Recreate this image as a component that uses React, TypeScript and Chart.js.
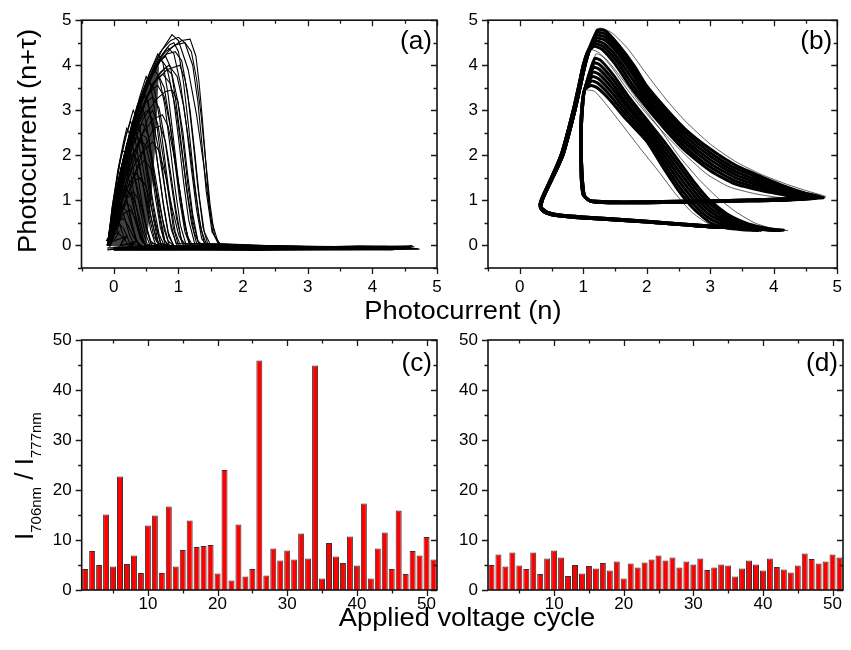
import React, { useEffect, useRef } from "react";
import { Chart, registerables } from "chart.js";
Chart.register(...registerables);

const W = 851;
const H = 650;
const FONT = '"Liberation Sans", Arial, Helvetica, sans-serif';

// ---------------- bar data (panels c, d) ----------------
const cycles = [1, 2, 3, 4, 5, 6, 7, 8, 9, 10, 11, 12, 13, 14, 15, 16, 17, 18, 19, 20, 21, 22, 23, 24, 25, 26, 27, 28, 29, 30, 31, 32, 33, 34, 35, 36, 37, 38, 39, 40, 41, 42, 43, 44, 45, 46, 47, 48, 49, 50, 51];
const ratioC = [4.2, 7.8, 5.0, 15.1, 4.7, 22.7, 5.2, 6.9, 3.4, 12.9, 14.9, 3.4, 16.7, 4.7, 8.0, 13.9, 8.6, 8.8, 9.0, 3.3, 24.0, 1.9, 13.1, 2.7, 4.2, 45.9, 2.9, 8.3, 5.9, 7.9, 6.1, 11.3, 6.3, 44.9, 2.3, 9.4, 6.7, 5.4, 10.7, 4.9, 17.3, 2.3, 8.3, 11.5, 4.2, 15.9, 3.2, 7.8, 6.9, 10.6, 6.1];
const ratioD = [5.0, 7.1, 4.7, 7.5, 4.9, 4.2, 7.5, 3.2, 6.3, 7.9, 6.5, 2.8, 5.0, 3.3, 4.8, 4.3, 5.4, 3.9, 5.7, 2.3, 5.3, 4.5, 5.5, 6.1, 6.9, 5.9, 6.5, 4.5, 5.7, 5.1, 6.3, 4.0, 4.5, 5.1, 4.9, 2.7, 4.3, 5.9, 5.1, 3.9, 6.3, 4.6, 4.1, 3.5, 4.9, 7.3, 6.2, 5.3, 5.7, 7.1, 6.5];

// ---------------- tick values ----------------
const photoMajor = [0, 1, 2, 3, 4, 5];
const photoMinor = [-0.5, 0.5, 1.5, 2.5, 3.5, 4.5];
const cycleMajor = [10, 20, 30, 40, 50];
const cycleMinor = [5, 15, 25, 35, 45];
const ratioMajor = [0, 10, 20, 30, 40, 50];
const ratioMinor = [5, 15, 25, 35, 45];

// ---------------- panel (a): densest core region (upper / lower edge) ----------------
const coreUpperA = [[-0.1, 0], [-0.05, 0.5], [0.0, 0.95], [0.08, 1.5], [0.16, 1.95], [0.25, 2.45], [0.32, 2.8], [0.4, 3.15], [0.47, 3.4], [0.55, 3.65], [0.62, 3.85], [0.7, 4.0]];
const coreLowerA = [[-0.1, 0], [0.1, -0.04], [0.35, -0.04], [0.5, 0.05], [0.55, 0.6], [0.6, 1.4], [0.64, 2.2], [0.67, 3.0], [0.7, 4.0]];

// ---------------- panel (a): chaotic trajectories (n, n+tau) ----------------
const tracesA: number[][][] = [
  [[-0.09, 0], [-0.03, 0.6], [0.03, 1.1], [0.17, 2.0], [0.35, 3.0], [0.48, 3.5], [0.63, 4.0], [0.75, 4.35], [0.9, 4.68], [1.0, 4.55], [1.15, 3.9], [1.28, 2.9], [1.4, 1.7], [1.5, 0.6], [1.62, 0.04], [2.6, -0.02], [4.7, -0.07], [2.2, -0.11], [-0.05, -0.08]],
  [[-0.1, 0.02], [0.0, 0.9], [0.12, 1.75], [0.27, 2.6], [0.4, 3.25], [0.56, 3.85], [0.72, 4.3], [0.88, 4.55], [1.0, 4.62], [1.1, 4.5], [1.22, 4.0], [1.3, 3.2], [1.36, 2.3], [1.43, 1.2], [1.52, 0.3], [1.66, 0.0], [3.9, -0.03], [4.62, -0.01], [3.4, -0.08], [0, -0.07]],
  [[-0.07, -0.02], [0.03, 1.0], [0.15, 1.9], [0.3, 2.75], [0.46, 3.45], [0.62, 3.95], [0.8, 4.3], [0.95, 4.45], [1.1, 4.5], [1.2, 4.3], [1.28, 3.7], [1.35, 2.9], [1.42, 1.9], [1.49, 0.9], [1.56, 0.2], [1.66, 0.0], [4.3, -0.05], [4.55, -0.03], [0, -0.09]],
  [[-0.09, 0.01], [-0.02, 0.7], [0.09, 1.5], [0.23, 2.3], [0.38, 3.05], [0.55, 3.7], [0.7, 4.15], [0.83, 4.4], [0.93, 4.25], [1.03, 3.6], [1.12, 2.7], [1.2, 1.7], [1.28, 0.8], [1.36, 0.15], [1.45, -0.02], [3.3, -0.06], [0, -0.09]],
  [[-0.08, 0], [0.02, 0.95], [0.16, 1.95], [0.32, 2.85], [0.5, 3.6], [0.68, 4.05], [0.82, 4.25], [0.95, 4.3], [1.05, 4.1], [1.14, 3.4], [1.22, 2.4], [1.3, 1.3], [1.38, 0.4], [1.46, 0.0], [2.9, -0.05], [0, -0.08]],
  [[-0.1, 0], [-0.03, 0.6], [0.06, 1.3], [0.2, 2.15], [0.36, 2.95], [0.52, 3.6], [0.65, 4.0], [0.72, 4.15], [0.82, 3.95], [0.92, 3.3], [1.0, 2.4], [1.08, 1.4], [1.16, 0.55], [1.25, 0.05], [2.5, -0.04], [0, -0.07]],
  [[-0.06, 0], [0.04, 0.9], [0.2, 1.9], [0.38, 2.8], [0.56, 3.45], [0.72, 3.85], [0.85, 4.0], [0.98, 3.75], [1.08, 3.1], [1.17, 2.2], [1.26, 1.2], [1.35, 0.35], [1.44, 0.0], [3.6, -0.05], [0, -0.09]],
  [[-0.09, 0.02], [0.0, 0.85], [0.13, 1.7], [0.28, 2.55], [0.43, 3.25], [0.55, 3.7], [0.62, 3.9], [0.7, 3.75], [0.79, 3.1], [0.87, 2.2], [0.95, 1.25], [1.03, 0.45], [1.12, 0.0], [1.9, -0.05], [0, -0.07]],
  [[-0.08, 0], [0.03, 0.9], [0.18, 1.85], [0.35, 2.7], [0.52, 3.35], [0.66, 3.7], [0.76, 3.8], [0.87, 3.6], [0.97, 2.95], [1.06, 2.0], [1.15, 1.05], [1.24, 0.3], [1.33, 0.0], [2.7, -0.04], [0, -0.08]],
  [[-0.1, 0], [-0.02, 0.7], [0.1, 1.55], [0.25, 2.45], [0.4, 3.15], [0.5, 3.5], [0.55, 3.65], [0.63, 3.45], [0.71, 2.8], [0.79, 1.9], [0.87, 1.0], [0.95, 0.3], [1.03, 0.0], [1.6, -0.04], [0, -0.06]],
  [[-0.07, 0.01], [0.05, 1.0], [0.2, 1.95], [0.37, 2.75], [0.52, 3.3], [0.62, 3.5], [0.68, 3.55], [0.78, 3.3], [0.88, 2.6], [0.97, 1.7], [1.06, 0.85], [1.14, 0.2], [1.22, 0.0], [3.1, -0.06], [0, -0.09]],
  [[-0.09, 0], [0.0, 0.9], [0.12, 1.75], [0.26, 2.55], [0.38, 3.1], [0.46, 3.4], [0.53, 3.2], [0.61, 2.55], [0.69, 1.7], [0.77, 0.85], [0.85, 0.2], [0.93, 0.0], [1.4, -0.05], [0, -0.07]],
  [[-0.08, 0.02], [0.04, 1.0], [0.18, 1.95], [0.33, 2.7], [0.48, 3.15], [0.6, 3.3], [0.7, 3.05], [0.79, 2.35], [0.88, 1.45], [0.97, 0.6], [1.06, 0.05], [2.1, -0.04], [0, -0.08]],
  [[-0.1, 0.01], [-0.01, 0.85], [0.11, 1.7], [0.24, 2.45], [0.34, 2.95], [0.4, 3.15], [0.47, 2.95], [0.55, 2.3], [0.63, 1.5], [0.71, 0.7], [0.79, 0.1], [0.87, -0.02], [1.2, -0.05], [0, -0.07]],
  [[-0.06, 0], [0.06, 1.0], [0.2, 1.9], [0.35, 2.6], [0.46, 2.92], [0.52, 3.0], [0.6, 2.8], [0.69, 2.15], [0.78, 1.35], [0.87, 0.55], [0.96, 0.05], [1.8, -0.05], [0, -0.08]],
  [[-0.09, 0], [0.0, 0.85], [0.12, 1.7], [0.23, 2.35], [0.3, 2.7], [0.33, 2.85], [0.4, 2.65], [0.48, 2.0], [0.56, 1.25], [0.64, 0.55], [0.72, 0.05], [1.0, -0.04], [0, -0.06]],
  [[-0.1, 0], [0.03, 0.95], [0.17, 1.85], [0.3, 2.4], [0.4, 2.65], [0.45, 2.7], [0.53, 2.45], [0.61, 1.8], [0.7, 1.05], [0.78, 0.35], [0.86, 0.0], [1.5, -0.05], [0, -0.07]],
  [[-0.08, 0.01], [0.0, 0.8], [0.1, 1.6], [0.19, 2.2], [0.24, 2.45], [0.26, 2.55], [0.33, 2.35], [0.41, 1.7], [0.49, 1.0], [0.57, 0.35], [0.65, 0.0], [0.95, -0.04], [0, -0.06]],
  [[-0.1, 0], [0.02, 0.9], [0.15, 1.75], [0.27, 2.2], [0.34, 2.35], [0.38, 2.4], [0.46, 2.15], [0.54, 1.55], [0.62, 0.85], [0.7, 0.25], [0.78, 0.0], [1.3, -0.05], [0, -0.08]],
  [[-0.09, 0], [-0.02, 0.7], [0.07, 1.45], [0.15, 1.95], [0.2, 2.2], [0.26, 2.0], [0.33, 1.45], [0.4, 0.85], [0.48, 0.3], [0.56, 0.0], [0.8, -0.04], [0, -0.06]],
  [[-0.1, 0.01], [0.0, 0.8], [0.12, 1.55], [0.22, 1.9], [0.3, 2.05], [0.38, 1.85], [0.46, 1.3], [0.54, 0.7], [0.62, 0.2], [0.7, 0.0], [1.1, -0.04], [0, -0.07]],
  [[-0.08, 0], [-0.01, 0.7], [0.07, 1.35], [0.14, 1.85], [0.2, 1.7], [0.27, 1.2], [0.34, 0.65], [0.41, 0.2], [0.48, 0.0], [0.7, -0.04], [0, -0.06]],
  [[-0.09, 0], [0.02, 0.75], [0.13, 1.4], [0.25, 1.7], [0.33, 1.5], [0.41, 1.0], [0.49, 0.45], [0.57, 0.05], [0.9, -0.04], [0, -0.06]],
  [[-0.1, 0], [-0.02, 0.65], [0.05, 1.2], [0.09, 1.5], [0.15, 1.35], [0.22, 0.9], [0.29, 0.45], [0.36, 0.08], [0.44, -0.02], [0, -0.06]],
  [[-0.08, 0.01], [0.02, 0.65], [0.1, 1.1], [0.18, 1.3], [0.26, 1.1], [0.34, 0.65], [0.42, 0.2], [0.5, 0.0], [0.75, -0.04], [0, -0.06]],
  [[-0.1, 0], [-0.03, 0.55], [0.04, 1.1], [0.1, 0.95], [0.17, 0.6], [0.24, 0.25], [0.31, 0.02], [0.5, -0.04], [0, -0.05]],
  [[-0.08, 0], [0.0, 0.5], [0.12, 0.9], [0.2, 0.75], [0.28, 0.4], [0.36, 0.08], [0.44, -0.02], [0, -0.06]],
  [[-0.1, 0.01], [-0.04, 0.45], [0.0, 0.7], [0.07, 0.55], [0.14, 0.25], [0.21, 0.02], [0.35, -0.04], [0, -0.05]],
  [[-0.09, 0], [0.0, 0.35], [0.08, 0.5], [0.16, 0.35], [0.24, 0.08], [0.3, -0.02], [0, -0.05]],
  [[-0.06, -0.03], [0.05, 1.05], [0.2, 2.05], [0.37, 2.95], [0.54, 3.6], [0.72, 4.1], [0.9, 4.4], [1.05, 4.55], [1.18, 4.58], [1.27, 4.2], [1.32, 3.6], [1.37, 2.8], [1.42, 1.9], [1.47, 1.0], [1.53, 0.3], [1.62, 0.02], [4.5, -0.06], [0, -0.1]],
  [[-0.09, 0], [0.04, 1.0], [0.22, 2.1], [0.42, 3.0], [0.62, 3.6], [0.82, 3.9], [1.02, 4.0], [1.1, 3.7], [1.18, 3.0], [1.25, 2.1], [1.32, 1.1], [1.4, 0.3], [1.5, 0.0], [3.8, -0.05], [0, -0.08]],
  [[-0.07, 0], [0.06, 1.0], [0.24, 2.0], [0.45, 2.8], [0.66, 3.25], [0.8, 3.42], [0.9, 3.45], [0.99, 3.2], [1.07, 2.5], [1.14, 1.6], [1.22, 0.7], [1.3, 0.1], [1.38, 0.0], [2.4, -0.05], [0, -0.08]],
  [[-0.08, 0.01], [0.06, 0.95], [0.24, 1.85], [0.43, 2.45], [0.6, 2.8], [0.75, 2.9], [0.84, 2.65], [0.93, 2.0], [1.02, 1.2], [1.1, 0.45], [1.18, 0.0], [2.0, -0.05], [0, -0.07]],
  [[-0.1, 0], [0.05, 0.8], [0.23, 1.55], [0.42, 2.05], [0.6, 2.3], [0.7, 2.1], [0.8, 1.55], [0.9, 0.85], [1.0, 0.25], [1.08, 0.0], [1.7, -0.05], [0, -0.08]],
  [[-0.08, 0], [0.07, 0.75], [0.25, 1.4], [0.4, 1.78], [0.48, 1.9], [0.57, 1.7], [0.66, 1.2], [0.75, 0.6], [0.84, 0.1], [0.92, 0.0], [1.25, -0.04], [0, -0.07]],
  [[-0.1, 0.02], [-0.02, 0.8], [0.1, 1.65], [0.26, 2.55], [0.42, 3.3], [0.56, 3.85], [0.68, 4.25], [0.76, 4.05], [0.84, 3.35], [0.92, 2.4], [1.0, 1.4], [1.08, 0.55], [1.17, 0.05], [2.2, -0.04], [0, -0.08]],
  [[-0.09, 0], [0.0, 0.9], [0.13, 1.8], [0.28, 2.65], [0.4, 3.3], [0.5, 3.75], [0.57, 3.55], [0.65, 2.85], [0.73, 1.95], [0.81, 1.05], [0.89, 0.35], [0.98, 0.0], [1.55, -0.05], [0, -0.07]],
  [[-0.1, 0], [-0.02, 0.9], [0.09, 1.8], [0.2, 2.5], [0.3, 3.0], [0.37, 2.8], [0.45, 2.15], [0.53, 1.35], [0.61, 0.6], [0.69, 0.05], [0.95, -0.04], [0, -0.07]],
  [[-0.09, 0.01], [-0.03, 0.8], [0.06, 1.65], [0.15, 2.3], [0.2, 2.6], [0.27, 2.4], [0.35, 1.75], [0.43, 1.0], [0.51, 0.35], [0.59, 0.0], [0.85, -0.04], [0, -0.06]],
  [[0, -0.05], [1.8, -0.02], [2.5, 0.0], [3.5, -0.05], [4.6, -0.04], [3.8, -0.09], [2.0, -0.1], [0, -0.1]],
  [[0, -0.08], [1.0, -0.06], [2.5, -0.06], [3.8, -0.01], [4.65, -0.03], [4.3, -0.1], [3.0, -0.08], [0.5, -0.1], [-0.1, -0.08]],
  [[-0.1, 0], [0.05, 0.7], [0.2, 1.3], [0.35, 1.6], [0.44, 1.4], [0.53, 0.9], [0.62, 0.35], [0.7, 0.0], [1.0, -0.05], [0, -0.07]],
  [[-0.09, 0], [0.05, 0.6], [0.18, 1.0], [0.3, 1.2], [0.39, 1.0], [0.48, 0.55], [0.57, 0.1], [0.65, 0.0], [0.95, -0.04], [0, -0.06]],
  [[-0.08, 0], [0.05, 0.45], [0.15, 0.7], [0.25, 0.8], [0.33, 0.6], [0.41, 0.25], [0.5, 0.0], [0.7, -0.04], [0, -0.06]],
  [[0, -0.06], [1.5, -0.05], [2.5, -0.02], [3.5, -0.03], [4.2, -0.02], [4.73, -0.08], [3.6, -0.1], [1.8, -0.08], [0, -0.1]],
  [[-0.05, 0], [0.1, 0.8], [0.25, 1.6], [0.4, 2.3], [0.52, 2.8], [0.6, 3.0], [0.68, 2.7], [0.76, 2.0], [0.84, 1.2], [0.92, 0.4], [1.0, 0.0], [1.4, -0.05], [0, -0.07]],
  [[-0.04, 0.02], [0.12, 0.7], [0.3, 1.5], [0.48, 2.2], [0.62, 2.6], [0.72, 2.65], [0.8, 2.3], [0.88, 1.6], [0.96, 0.8], [1.04, 0.15], [1.12, 0.0], [1.9, -0.05], [0, -0.08]],
  [[-0.08, 0], [0.06, 0.9], [0.2, 1.6], [0.32, 2.1], [0.42, 2.35], [0.5, 2.2], [0.58, 1.7], [0.65, 1.0], [0.72, 0.4], [0.8, 0.0], [1.2, -0.04], [0, -0.07]],
  [[-0.06, 0], [0.08, 0.6], [0.2, 1.1], [0.32, 1.45], [0.42, 1.5], [0.5, 1.3], [0.58, 0.85], [0.66, 0.35], [0.74, 0.0], [1.05, -0.05], [0, -0.07]],
  [[-0.1, 0.01], [0.0, 0.5], [0.1, 0.95], [0.2, 1.2], [0.28, 1.15], [0.36, 0.8], [0.44, 0.35], [0.52, 0.02], [0.8, -0.04], [0, -0.06]],
  [[-0.07, 0], [0.02, 0.4], [0.12, 0.75], [0.2, 0.95], [0.27, 0.85], [0.34, 0.5], [0.41, 0.15], [0.48, 0.0], [0.65, -0.04], [0, -0.05]],
  [[-0.09, 0.02], [-0.01, 0.3], [0.08, 0.55], [0.15, 0.6], [0.22, 0.45], [0.3, 0.2], [0.38, 0.02], [0.55, -0.04], [0, -0.05]],
  [[-0.08, 0], [0.05, 1.1], [0.16, 2.0], [0.26, 2.6], [0.36, 3.1], [0.44, 3.35], [0.52, 3.2], [0.6, 2.6], [0.68, 1.8], [0.76, 1.0], [0.84, 0.3], [0.92, 0.0], [1.35, -0.05], [0, -0.07]],
  [[-0.1, 0], [0.02, 1.2], [0.1, 1.9], [0.18, 2.4], [0.26, 2.75], [0.34, 2.6], [0.42, 2.0], [0.5, 1.3], [0.58, 0.6], [0.66, 0.1], [0.74, 0.0], [1.1, -0.04], [0, -0.06]],
  [[-0.09, 0], [0.0, 1.0], [0.07, 1.7], [0.13, 2.1], [0.19, 2.05], [0.26, 1.6], [0.33, 1.0], [0.4, 0.45], [0.47, 0.05], [0.6, -0.03], [0, -0.06]],
  [[-0.1, 0], [-0.04, 0.5], [0.02, 1.05], [0.08, 1.5], [0.13, 1.45], [0.2, 1.0], [0.27, 0.5], [0.34, 0.1], [0.4, 0.0], [0.55, -0.04], [0, -0.05]],
  [[-0.08, 0.01], [0.1, 1.2], [0.28, 2.3], [0.45, 3.1], [0.6, 3.6], [0.7, 3.75], [0.78, 3.5], [0.86, 2.8], [0.94, 1.9], [1.02, 1.0], [1.1, 0.3], [1.18, 0.0], [2.3, -0.05], [0, -0.08]],
  [[-0.06, 0], [0.14, 1.3], [0.34, 2.5], [0.52, 3.3], [0.68, 3.75], [0.8, 3.95], [0.9, 3.8], [0.99, 3.2], [1.07, 2.3], [1.15, 1.3], [1.23, 0.5], [1.31, 0.05], [2.6, -0.04], [0, -0.08]],
  [[-0.09, 0], [0.08, 1.2], [0.26, 2.3], [0.44, 3.2], [0.6, 3.8], [0.72, 4.1], [0.8, 4.2], [0.88, 3.95], [0.96, 3.2], [1.04, 2.3], [1.12, 1.3], [1.2, 0.5], [1.28, 0.05], [2.0, -0.05], [0, -0.08]],
  [[-0.1, 0], [0.05, 1.1], [0.22, 2.2], [0.4, 3.1], [0.58, 3.75], [0.74, 4.2], [0.86, 4.45], [0.93, 4.5], [1.0, 4.3], [1.08, 3.6], [1.16, 2.6], [1.24, 1.5], [1.32, 0.6], [1.4, 0.05], [3.0, -0.05], [0, -0.09]],
  [[-0.05, 0], [0.1, 0.9], [0.24, 1.7], [0.36, 2.2], [0.44, 2.45], [0.5, 2.4], [0.57, 2.0], [0.63, 1.4], [0.7, 0.7], [0.77, 0.15], [0.84, 0.0], [1.15, -0.04], [0, -0.07]],
  [[-0.1, 0.05], [0.0, 0.3], [-0.05, 0.5], [0.05, 0.7], [0.0, 0.85], [0.1, 0.6], [0.05, 0.3], [0.15, 0.15], [0.1, 0.0], [0.3, 0.05], [0.2, -0.05], [-0.1, -0.05]],
  [[-0.12, 0.1], [0.02, 0.4], [-0.06, 0.2], [0.08, 0.3], [0.0, 0.1], [0.2, 0.2], [0.1, 0.0], [0.35, 0.1], [0.25, -0.05], [-0.1, -0.1]],
];

// ---------------- panel (b): period-2 loop segments ----------------
const bAscentA = [[0.33, 0.86], [0.36, 1.02], [0.45, 1.3], [0.57, 1.65], [0.68, 2.0], [0.78, 2.5], [0.87, 3.0], [0.95, 3.5], [1.02, 3.95], [1.09, 4.3]];
const bAscentB = [[0.31, 0.88], [0.35, 1.05], [0.44, 1.33], [0.56, 1.7], [0.66, 2.05], [0.76, 2.55], [0.85, 3.05], [0.93, 3.55], [1.0, 4.0], [1.07, 4.3]];
const bReturn1A = [[4.2, 1.01], [3.6, 0.99], [3.0, 0.97], [2.0, 0.95], [1.4, 0.95], [1.12, 0.98]];
const bReturn1B = [[4.1, 1.03], [3.6, 1.01], [3.0, 0.99], [2.0, 0.97], [1.4, 0.97], [1.1, 1.0]];
const bRise2A = [[1.02, 1.1], [0.99, 1.4], [0.97, 2.0], [0.97, 2.6], [0.99, 3.1], [1.02, 3.45]];
const bRise2B = [[1.0, 1.12], [0.97, 1.45], [0.96, 2.0], [0.96, 2.6], [0.98, 3.1], [1.01, 3.4]];
const bReturn2A = [[3.5, 0.39], [3.0, 0.41], [2.0, 0.52], [1.0, 0.61], [0.6, 0.66], [0.42, 0.72], [0.34, 0.8], [0.33, 0.86]];
const bReturn2B = [[3.4, 0.41], [3.0, 0.43], [2.0, 0.54], [1.0, 0.63], [0.6, 0.68], [0.43, 0.74], [0.35, 0.82], [0.31, 0.88]];

// first (outer) descending branch of each loop
const bDescent1 = [
  [[1.22, 4.78], [1.35, 4.76], [1.55, 4.46], [1.8, 3.99], [2.0, 3.54], [2.3, 3.04], [2.6, 2.59], [3.0, 2.14], [3.4, 1.78], [3.8, 1.53], [4.2, 1.3], [4.5, 1.16], [4.72, 1.08]],
  [[1.21, 4.72], [1.35, 4.69], [1.55, 4.39], [1.8, 3.91], [2.0, 3.46], [2.3, 2.96], [2.6, 2.51], [3.0, 2.06], [3.4, 1.71], [3.8, 1.48], [4.2, 1.27], [4.55, 1.13], [4.75, 1.07]],
  [[1.2, 4.66], [1.35, 4.62], [1.55, 4.32], [1.8, 3.83], [2.0, 3.38], [2.3, 2.88], [2.6, 2.43], [3.0, 1.98], [3.4, 1.64], [3.8, 1.42], [4.2, 1.23], [4.5, 1.12], [4.68, 1.06]],
  [[1.2, 4.6], [1.35, 4.55], [1.55, 4.25], [1.8, 3.75], [2.0, 3.3], [2.3, 2.8], [2.6, 2.35], [3.0, 1.9], [3.4, 1.57], [3.8, 1.37], [4.2, 1.2], [4.55, 1.1], [4.78, 1.06]],
  [[1.19, 4.54], [1.33, 4.48], [1.53, 4.18], [1.78, 3.68], [2.0, 3.22], [2.3, 2.72], [2.6, 2.27], [3.0, 1.82], [3.4, 1.5], [3.8, 1.32], [4.2, 1.17], [4.5, 1.09], [4.65, 1.05]],
  [[1.18, 4.48], [1.32, 4.41], [1.52, 4.1], [1.76, 3.6], [2.0, 3.14], [2.3, 2.64], [2.6, 2.19], [3.0, 1.74], [3.4, 1.43], [3.8, 1.27], [4.2, 1.14], [4.45, 1.07]],
  [[1.17, 4.42], [1.3, 4.35], [1.5, 4.03], [1.74, 3.53], [2.0, 3.06], [2.3, 2.56], [2.6, 2.11], [3.0, 1.66], [3.4, 1.36], [3.8, 1.22], [4.2, 1.11], [4.4, 1.05]],
  [[1.25, 4.82], [1.45, 4.72], [1.7, 4.37], [2.0, 3.8], [2.3, 3.25], [2.6, 2.77], [3.0, 2.25], [3.4, 1.86], [3.8, 1.58], [4.2, 1.36], [4.55, 1.2], [4.82, 1.08]],
  [[1.12, 4.35], [1.25, 4.28], [1.45, 3.95], [1.7, 3.45], [2.0, 2.92], [2.3, 2.45], [2.6, 2.02], [2.95, 1.58], [3.3, 1.3], [3.7, 1.15], [4.1, 1.06], [4.3, 1.03]],
];
// second (inner) descending branch of each loop
const bDescent2 = [
  [[1.18, 4.15], [1.28, 4.1], [1.48, 3.77], [1.72, 3.29], [2.0, 2.79], [2.25, 2.35], [2.5, 1.88], [2.75, 1.4], [3.0, 0.99], [3.3, 0.67], [3.6, 0.48], [3.9, 0.38], [4.15, 0.34]],
  [[1.17, 4.05], [1.27, 4.0], [1.47, 3.68], [1.71, 3.21], [2.0, 2.71], [2.25, 2.25], [2.5, 1.77], [2.75, 1.3], [3.0, 0.91], [3.3, 0.62], [3.6, 0.45], [3.9, 0.36], [4.1, 0.33]],
  [[1.16, 3.95], [1.26, 3.9], [1.46, 3.59], [1.7, 3.13], [2.0, 2.63], [2.25, 2.15], [2.5, 1.66], [2.75, 1.2], [3.0, 0.83], [3.3, 0.57], [3.6, 0.43], [3.85, 0.36], [4.05, 0.33]],
  [[1.15, 3.85], [1.25, 3.8], [1.45, 3.5], [1.7, 3.05], [2.0, 2.55], [2.25, 2.05], [2.5, 1.55], [2.75, 1.1], [3.0, 0.75], [3.3, 0.52], [3.6, 0.4], [3.85, 0.35], [4.05, 0.33]],
  [[1.14, 3.75], [1.24, 3.7], [1.44, 3.41], [1.69, 2.97], [2.0, 2.47], [2.25, 1.95], [2.5, 1.44], [2.75, 1.0], [3.0, 0.67], [3.3, 0.47], [3.6, 0.37], [3.8, 0.34]],
  [[1.13, 3.65], [1.23, 3.6], [1.43, 3.32], [1.68, 2.89], [2.0, 2.39], [2.25, 1.85], [2.5, 1.33], [2.75, 0.9], [3.0, 0.59], [3.3, 0.42], [3.55, 0.36], [3.75, 0.33]],
  [[1.12, 3.55], [1.22, 3.5], [1.42, 3.23], [1.67, 2.81], [2.0, 2.31], [2.25, 1.75], [2.5, 1.22], [2.75, 0.8], [3.0, 0.51], [3.25, 0.39], [3.5, 0.35], [3.7, 0.34]],
  [[1.2, 4.25], [1.35, 4.15], [1.6, 3.72], [1.9, 3.15], [2.2, 2.6], [2.5, 2.0], [2.8, 1.5], [3.1, 1.08], [3.4, 0.75], [3.7, 0.5], [4.0, 0.37], [4.22, 0.33]],
  [[1.08, 3.45], [1.18, 3.42], [1.35, 3.15], [1.6, 2.7], [1.9, 2.15], [2.2, 1.62], [2.45, 1.15], [2.7, 0.75], [2.95, 0.5], [3.2, 0.38], [3.4, 0.35], [3.6, 0.33]],
];
// pairing of branches into loops, shared-segment variant and thin outliers
const bPair2 = [3, 0, 5, 2, 6, 1, 4, 7, 8];
const bVariant = ["A", "B", "A", "B", "A", "B", "A", "B", "A"];
const bThin = [false, false, false, false, false, false, false, true, true];

function buildLoopB(i: number) {
  const v = bVariant[i];
  const asc = v === "A" ? bAscentA : bAscentB;
  const r1 = v === "A" ? bReturn1A : bReturn1B;
  const rise = v === "A" ? bRise2A : bRise2B;
  const r2 = v === "A" ? bReturn2A : bReturn2B;
  return [...asc, ...bDescent1[i], ...r1, ...rise, ...bDescent2[bPair2[i]], ...r2];
}

// ---------------- drawing helpers ----------------
const toXY = (pts: number[][]) => pts.map(([x, y]) => ({ x, y }));
const TITLE_PX = 26;
const STRETCH = 1.05;

function stretchedText(ctx: CanvasRenderingContext2D, text: string, cx: number, cy: number, rotate: boolean) {
  ctx.save();
  ctx.translate(cx, cy);
  if (rotate) ctx.rotate(-Math.PI / 2);
  ctx.scale(STRETCH, 1);
  ctx.fillStyle = "#000";
  ctx.font = `${TITLE_PX}px ${FONT}`;
  ctx.textAlign = "center";
  ctx.textBaseline = "middle";
  ctx.fillText(text, 0, 0);
  ctx.restore();
}

function drawTopTitles(ctx: CanvasRenderingContext2D) {
  stretchedText(ctx, "Photocurrent (n)", 463, 312, false);
  stretchedText(ctx, "Photocurrent (n+\u03c4)", 29, 141, true);
}

function drawBottomTitles(ctx: CanvasRenderingContext2D) {
  stretchedText(ctx, "Applied voltage cycle", 467, 619, false);
  ctx.save();
  ctx.translate(33, 540);
  ctx.rotate(-Math.PI / 2);
  ctx.fillStyle = "#000";
  ctx.textAlign = "left";
  ctx.textBaseline = "alphabetic";
  const big = `${TITLE_PX}px ${FONT}`;
  const small = `15px ${FONT}`;
  const parts: [string, string, number][] = [
    ["I", big, 0],
    ["706nm", small, 8],
    [" / ", big, 0],
    ["I", big, 0],
    ["777nm", small, 8],
  ];
  let x = 0;
  for (const [t, f, dy] of parts) {
    ctx.font = f;
    ctx.fillText(t, x, dy);
    x += ctx.measureText(t).width;
  }
  ctx.restore();
}

type PanelSpec = { xMajor: number[]; xMinor: number[]; yMajor: number[]; yMinor: number[]; label: string; labelDy: number; titles: string };

function makePanelPlugin(spec: PanelSpec) {
  return {
    id: "panel",
    afterDraw(chart: any) {
      const o = spec;
      const { ctx, chartArea: a } = chart;
      const sx = chart.scales.x;
      const sy = chart.scales.y;
      ctx.save();
      ctx.strokeStyle = "#1a1a1a";
      ctx.lineWidth = 1.3;
      ctx.beginPath();
      const MAJ = 6;
      const MIN = 3.5;
      const xt = (vals: number[], len: number) => {
        for (const v of vals) {
          const p = Math.round(sx.getPixelForValue(v)) + 0.5;
          ctx.moveTo(p, a.bottom);
          ctx.lineTo(p, a.bottom + len);
          ctx.moveTo(p, a.top);
          ctx.lineTo(p, a.top + len);
        }
      };
      const yt = (vals: number[], len: number) => {
        for (const v of vals) {
          const p = Math.round(sy.getPixelForValue(v)) + 0.5;
          ctx.moveTo(a.left, p);
          ctx.lineTo(a.left - len, p);
          ctx.moveTo(a.right, p);
          ctx.lineTo(a.right - len, p);
        }
      };
      xt(o.xMajor, MAJ);
      xt(o.xMinor, MIN);
      yt(o.yMajor, MAJ);
      yt(o.yMinor, MIN);
      ctx.stroke();
      ctx.lineWidth = 1.6;
      ctx.strokeStyle = "#111";
      ctx.strokeRect(a.left, a.top, a.right - a.left, a.bottom - a.top);
      ctx.restore();
      ctx.save();
      ctx.translate(a.right - 5, a.top + o.labelDy);
      ctx.scale(STRETCH, 1);
      ctx.fillStyle = "#000";
      ctx.font = `25px ${FONT}`;
      ctx.textAlign = "right";
      ctx.textBaseline = "alphabetic";
      ctx.fillText(o.label, 0, 0);
      ctx.restore();
      if (o.titles === "top") drawTopTitles(ctx);
      if (o.titles === "bottom") drawBottomTitles(ctx);
    },
  };
}

type Area = { left: number; top: number; right: number; bottom: number };
const YW = 40;
const XH = 30;

function axisOptions(xr: number[], yr: number[], xTicks: number[], yTicks: number[], xPad: number) {
  const tickFont = { family: FONT, size: 17 };
  return {
    x: {
      type: "linear",
      min: xr[0],
      max: xr[1],
      offset: false,
      afterFit: (s: any) => {
        s.height = XH;
      },
      afterBuildTicks: (s: any) => {
        s.ticks = xTicks.map((v) => ({ value: v }));
      },
      grid: { display: false, drawTicks: false },
      border: { display: false },
      ticks: { font: tickFont, color: "#000", padding: xPad, maxRotation: 0, autoSkip: false },
    },
    y: {
      type: "linear",
      min: yr[0],
      max: yr[1],
      afterFit: (s: any) => {
        s.width = YW;
      },
      afterBuildTicks: (s: any) => {
        s.ticks = yTicks.map((v) => ({ value: v }));
      },
      grid: { display: false, drawTicks: false },
      border: { display: false },
      ticks: { font: tickFont, color: "#000", padding: 10, autoSkip: false },
    },
  };
}

function layoutFor(area: Area) {
  return {
    padding: {
      left: area.left - YW,
      top: area.top,
      right: W - area.right,
      bottom: H - area.bottom - XH,
    },
  };
}

const areaA: Area = { left: 81.5, top: 16.7, right: 437, bottom: 268 };
const areaB: Area = { left: 488, top: 16.7, right: 843.5, bottom: 268 };
const areaC: Area = { left: 81.7, top: 340, right: 437, bottom: 590 };
const areaD: Area = { left: 488, top: 340, right: 843, bottom: 590 };

function makeLineChart(canvas: HTMLCanvasElement, area: Area, datasets: any[], label: string, titles: string) {
  return new Chart(canvas, {
    type: "scatter",
    data: { datasets },
    options: {
      responsive: false,
      animation: false,
      events: [],
      layout: layoutFor(area),
      plugins: { legend: { display: false }, tooltip: { enabled: false } },
      scales: axisOptions([-0.5, 5], [-0.5, 5], photoMajor, photoMajor, 9) as any,
    },
    plugins: [makePanelPlugin({ xMajor: photoMajor, xMinor: photoMinor, yMajor: photoMajor, yMinor: photoMinor, label, labelDy: 29, titles })],
  } as any);
}

function makeBarChart(canvas: HTMLCanvasElement, area: Area, values: number[], label: string, titles: string) {
  return new Chart(canvas, {
    type: "bar",
    data: {
      datasets: [
        {
          data: cycles.map((c, i) => ({ x: c, y: values[i] })),
          backgroundColor: "#ff0000",
          borderColor: "#333333",
          borderWidth: 1,
          barPercentage: 0.86,
          categoryPercentage: 1,
        },
      ],
    },
    options: {
      responsive: false,
      animation: false,
      events: [],
      layout: layoutFor(area),
      plugins: { legend: { display: false }, tooltip: { enabled: false } },
      scales: axisOptions([0.5, 51.5], [0, 50], cycleMajor, ratioMajor, 4) as any,
    },
    plugins: [makePanelPlugin({ xMajor: cycleMajor, xMinor: cycleMinor, yMajor: ratioMajor, yMinor: ratioMinor, label, labelDy: 31, titles })],
  } as any);
}

export default function App() {
  const refA = useRef<HTMLCanvasElement>(null);
  const refB = useRef<HTMLCanvasElement>(null);
  const refC = useRef<HTMLCanvasElement>(null);
  const refD = useRef<HTMLCanvasElement>(null);

  useEffect(() => {
    document.body.style.margin = "0";
    const dsA: any[] = [
      {
        data: toXY(coreUpperA),
        showLine: true,
        borderWidth: 0,
        borderColor: "rgba(0,0,0,0)",
        backgroundColor: "rgba(0,0,0,0.75)",
        pointRadius: 0,
        fill: "+1",
        order: 10,
      },
      {
        data: toXY(coreLowerA),
        showLine: true,
        borderWidth: 0,
        borderColor: "rgba(0,0,0,0)",
        pointRadius: 0,
        fill: false,
        order: 10,
      },
      ...tracesA.map((t) => ({
        data: toXY(t),
        showLine: true,
        borderColor: "#000",
        borderWidth: 1.1,
        pointRadius: 0,
        tension: 0,
        fill: false,
        order: 1,
      })),
    ];
    const dsB = bDescent1.map((_, i) => ({
      data: toXY(buildLoopB(i)),
      showLine: true,
      borderColor: bThin[i] ? "#333" : "#000",
      borderWidth: bThin[i] ? 0.8 : 3,
      pointRadius: 0,
      tension: 0.2,
    }));
    const charts = [
      makeLineChart(refA.current!, areaA, dsA, "(a)", "top"),
      makeLineChart(refB.current!, areaB, dsB, "(b)", ""),
      makeBarChart(refC.current!, areaC, ratioC, "(c)", "bottom"),
      makeBarChart(refD.current!, areaD, ratioD, "(d)", ""),
    ];
    return () => charts.forEach((c) => c.destroy());
  }, []);

  const cs: React.CSSProperties = { position: "absolute", left: 0, top: 0 };
  return (
    <div style={{ position: "relative", width: W, height: H, background: "#fff" }}>
      <canvas ref={refA} width={W} height={H} style={cs} />
      <canvas ref={refB} width={W} height={H} style={cs} />
      <canvas ref={refC} width={W} height={H} style={cs} />
      <canvas ref={refD} width={W} height={H} style={cs} />
    </div>
  );
}
